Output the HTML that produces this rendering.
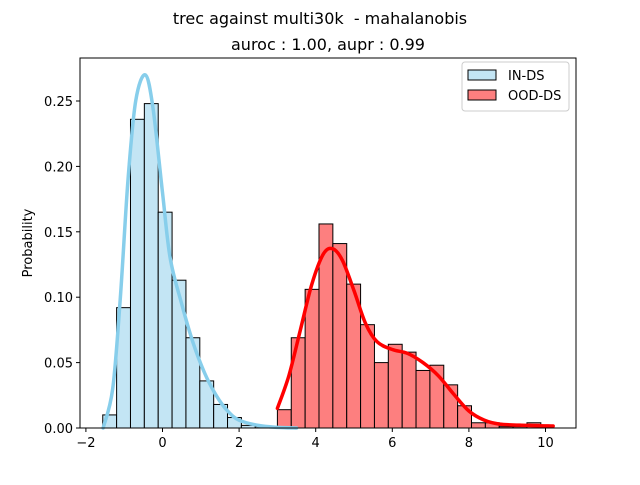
<!DOCTYPE html>
<html><head><meta charset="utf-8"><style>
body{margin:0;background:#fff;}
svg text{font-family:"DejaVu Sans","Liberation Sans",sans-serif;}
</style></head><body>
<svg id="chart" width="640" height="480" xmlns="http://www.w3.org/2000/svg">
<rect width="640" height="480" fill="#fff"/>
<text x="320" y="24" text-anchor="middle" font-size="16" xml:space="preserve">trec against multi30k  - mahalanobis</text>
<text x="328" y="50" text-anchor="middle" font-size="16">auroc : 1.00, aupr : 0.99</text>
<text x="0" y="0" transform="translate(32,243) rotate(-90)" text-anchor="middle" font-size="13">Probability</text>
<g id="plot"></g>
<rect x="80" y="58" width="496" height="370" fill="none" stroke="#000" stroke-width="1"/>
<g>
<rect x="462" y="62" width="107" height="49" rx="3" fill="#fff" fill-opacity="0.8" stroke="#ccc"/>
<rect x="468" y="70" width="28" height="10" fill="#c3e5f4" stroke="#000"/>
<text x="508" y="80" font-size="13">IN-DS</text>
<rect x="468" y="90" width="28" height="10" fill="#fd7f7f" stroke="#000"/>
<text x="508" y="100" font-size="13">OOD-DS</text>
</g>
</svg>
<script>
const inStart = -1.56;
const oodStart = 3.0;
const binWidth = 0.362;
const inBars = [0.010,0.092,0.236,0.248,0.165,0.113,0.069,0.036,0.018,0.008,0.002,0.001];
const oodBars = [0.014,0.069,0.106,0.156,0.141,0.110,0.079,0.050,0.064,0.058,0.044,0.048,0.033,0.017,0.004,0.004,0.001,0.001,0.004];
const inKdeX = [-1.55,-1.3,-1.1,-0.9,-0.7,-0.45,-0.25,0,0.2,0.5,0.8,1.1,1.4,1.7,2.0,2.5,3.0,3.5];
const inKdeY = [0,0.03,0.10,0.19,0.25,0.27,0.245,0.18,0.13,0.095,0.065,0.042,0.025,0.013,0.006,0.002,0.0005,0];
const oodKdeX = [3.0,3.3,3.6,3.9,4.2,4.45,4.7,5.0,5.3,5.6,6.0,6.4,6.8,7.2,7.6,8.0,8.4,8.8,9.5,10.2];
const oodKdeY = [0.015,0.04,0.075,0.11,0.133,0.137,0.128,0.105,0.08,0.066,0.06,0.057,0.05,0.04,0.026,0.013,0.006,0.003,0.002,0.0015];
const xTicks = [-2,0,2,4,6,8,10];
const yTicks = [0,0.05,0.10,0.15,0.20,0.25];
const yTickLabels = ["0.00","0.05","0.10","0.15","0.20","0.25"];

const NS = "http://www.w3.org/2000/svg";
const X = v => 162.5 + v * 38.3;
const Y = v => 428 - v * 1308;
const plot = document.getElementById('plot');
function mk(tag, attrs){ const e = document.createElementNS(NS, tag); for (const k in attrs) e.setAttribute(k, attrs[k]); return e; }

function bars(arr, start, fill, name){
  arr.forEach((v,i)=>{
    const x0 = X(start + i*binWidth), x1 = X(start + (i+1)*binWidth);
    const r = mk('rect',{x:x0,y:Y(v),width:x1-x0,height:Y(0)-Y(v),fill:fill,stroke:'#000','stroke-width':1});
    
    
    plot.appendChild(r);
  });
}
bars(inBars, inStart, '#c3e5f4', 'in-ds-bar');
bars(oodBars, oodStart, '#fd7f7f', 'ood-ds-bar');

function curve(xs, ys, color, name){
  const pts = xs.map((x,i)=>[X(x),Y(ys[i])]);
  let d = 'M'+pts[0][0]+','+pts[0][1];
  for (let i=0;i<pts.length-1;i++){
    const p0 = pts[Math.max(0,i-1)], p1 = pts[i], p2 = pts[i+1], p3 = pts[Math.min(pts.length-1,i+2)];
    const c1x = p1[0]+(p2[0]-p0[0])/6, c1y = p1[1]+(p2[1]-p0[1])/6;
    const c2x = p2[0]-(p3[0]-p1[0])/6, c2y = p2[1]-(p3[1]-p1[1])/6;
    d += ' C'+c1x+','+c1y+' '+c2x+','+c2y+' '+p2[0]+','+p2[1];
  }
  const p = mk('path',{d:d,fill:'none',stroke:color,'stroke-width':3.5,'stroke-linejoin':'round','stroke-linecap':'round'});
  
  
  plot.appendChild(p);
}
curve(inKdeX, inKdeY, '#87ceeb', 'in-ds-kde-line');
curve(oodKdeX, oodKdeY, '#ff0000', 'ood-ds-kde-line');

xTicks.forEach(t=>{
  const l = mk('line',{x1:X(t),x2:X(t),y1:428,y2:432,stroke:'#000'});
  
  
  plot.appendChild(l);
  const tx = mk('text',{x:X(t),y:447,'text-anchor':'middle','font-size':13});
  
  
  tx.textContent = t < 0 ? '\u2212' + Math.abs(t) : String(t);
  plot.appendChild(tx);
});
yTicks.forEach((t,i)=>{
  const l = mk('line',{x1:76,x2:80,y1:Y(t),y2:Y(t),stroke:'#000'});
  
  
  plot.appendChild(l);
  const tx = mk('text',{x:73,y:Y(t)+5,'text-anchor':'end','font-size':13});
  
  
  tx.textContent = yTickLabels[i];
  plot.appendChild(tx);
});
</script>
</body></html>
